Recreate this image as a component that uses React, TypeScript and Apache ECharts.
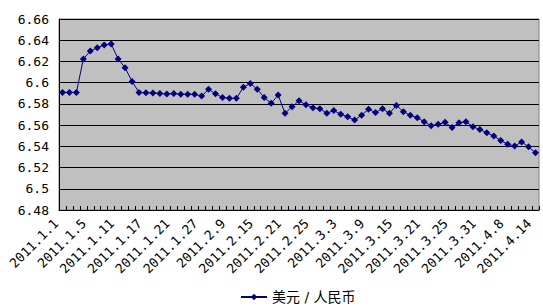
import React, { useEffect, useRef } from "react";
import * as echarts from "echarts";

const dates: string[] = [
  "2011.1.1", "2011.1.2", "2011.1.3", "2011.1.4", "2011.1.5", "2011.1.6", "2011.1.7", "2011.1.10",
  "2011.1.11", "2011.1.12", "2011.1.13", "2011.1.14", "2011.1.17", "2011.1.18", "2011.1.19", "2011.1.20",
  "2011.1.21", "2011.1.24", "2011.1.25", "2011.1.26", "2011.1.27", "2011.1.28", "2011.1.31", "2011.2.1",
  "2011.2.9", "2011.2.10", "2011.2.11", "2011.2.14", "2011.2.15", "2011.2.16", "2011.2.17", "2011.2.18",
  "2011.2.21", "2011.2.22", "2011.2.23", "2011.2.24", "2011.2.25", "2011.2.28", "2011.3.1", "2011.3.2",
  "2011.3.3", "2011.3.4", "2011.3.7", "2011.3.8", "2011.3.9", "2011.3.10", "2011.3.11", "2011.3.14",
  "2011.3.15", "2011.3.16", "2011.3.17", "2011.3.18", "2011.3.21", "2011.3.22", "2011.3.23", "2011.3.24",
  "2011.3.25", "2011.3.28", "2011.3.29", "2011.3.30", "2011.3.31", "2011.4.1", "2011.4.6", "2011.4.7",
  "2011.4.8", "2011.4.11", "2011.4.12", "2011.4.13", "2011.4.14",
];

const usdCny: number[] = [
  6.5908, 6.5908, 6.5908, 6.6223, 6.6298, 6.6329, 6.6355, 6.6364,
  6.6223, 6.6141, 6.6012, 6.5908, 6.5905, 6.5902, 6.5899, 6.5893,
  6.5897, 6.5891, 6.589, 6.589, 6.5874, 6.5937, 6.5895, 6.5861,
  6.5852, 6.5852, 6.5956, 6.5993, 6.5937, 6.5861, 6.5805, 6.5883,
  6.5711, 6.5773, 6.5829, 6.5792, 6.5763, 6.5755, 6.5711, 6.5738,
  6.5702, 6.5678, 6.5647, 6.5694, 6.575, 6.5718, 6.5755, 6.5711,
  6.5785, 6.5726, 6.5694, 6.5669, 6.5632, 6.5594, 6.5607, 6.5626,
  6.5577, 6.5622, 6.5632, 6.5584, 6.5559, 6.5527, 6.5497, 6.5455,
  6.542, 6.5402, 6.5442, 6.5395, 6.5339,
];

const seriesName = "美元 / 人民币";
const yMin = 6.48;
const yMax = 6.66;
const yStep = 0.02;

export default function App() {
  const ref = useRef<HTMLDivElement>(null);
  useEffect(() => {
    if (!ref.current) return;
    const chart = echarts.init(ref.current, null, { renderer: "svg" });
    const mono = "'DejaVu Sans Mono', monospace";
    chart.setOption({
      animation: false,
      backgroundColor: "#ffffff",
      grid: {
        left: 59,
        right: 4,
        top: 19,
        bottom: 97,
        show: true,
        backgroundColor: "#c0c0c0",
        borderColor: "#808080",
        borderWidth: 1,
      },
      legend: {
        data: [seriesName],
        top: 287,
        left: 238,
        padding: 2,
        itemWidth: 26,
        itemHeight: 8,
        itemGap: 6,
        textStyle: {
          fontFamily: "'DejaVu Sans', 'Noto Sans CJK SC', sans-serif",
          fontSize: 14,
          lineHeight: 16,
          color: "#000",
        },
      },
      xAxis: {
        type: "category",
        data: dates,
        boundaryGap: true,
        axisLine: { show: true, lineStyle: { color: "#000", width: 1 } },
        axisTick: {
          show: true,
          inside: true,
          interval: 0,
          length: 4,
          lineStyle: { color: "#000" },
        },
        axisLabel: {
          interval: 3,
          rotate: 45,
          margin: 5,
          padding: [0, 9, 0, 0],
          color: "#000",
          fontFamily: mono,
          fontSize: 13,
        },
        splitLine: { show: false },
      },
      yAxis: {
        type: "value",
        min: yMin,
        max: yMax,
        interval: yStep,
        axisLine: { show: true, lineStyle: { color: "#000", width: 1 } },
        axisTick: { show: false },
        axisLabel: {
          color: "#000",
          fontFamily: mono,
          fontSize: 13,
          margin: 10,
          formatter: (v: number) => String(parseFloat(v.toFixed(2))),
        },
        splitLine: { show: true, lineStyle: { color: "#000", width: 1 } },
      },
      series: [
        {
          name: seriesName,
          type: "line",
          data: usdCny,
          symbol: "diamond",
          symbolSize: 7,
          showAllSymbol: true,
          itemStyle: { color: "#000080" },
          lineStyle: { color: "#000080", width: 1 },
        },
      ],
    });
    return () => chart.dispose();
  }, []);
  return (
    <div
      ref={ref}
      style={{ position: "absolute", left: 0, top: 0, width: 543, height: 307 }}
    />
  );
}
